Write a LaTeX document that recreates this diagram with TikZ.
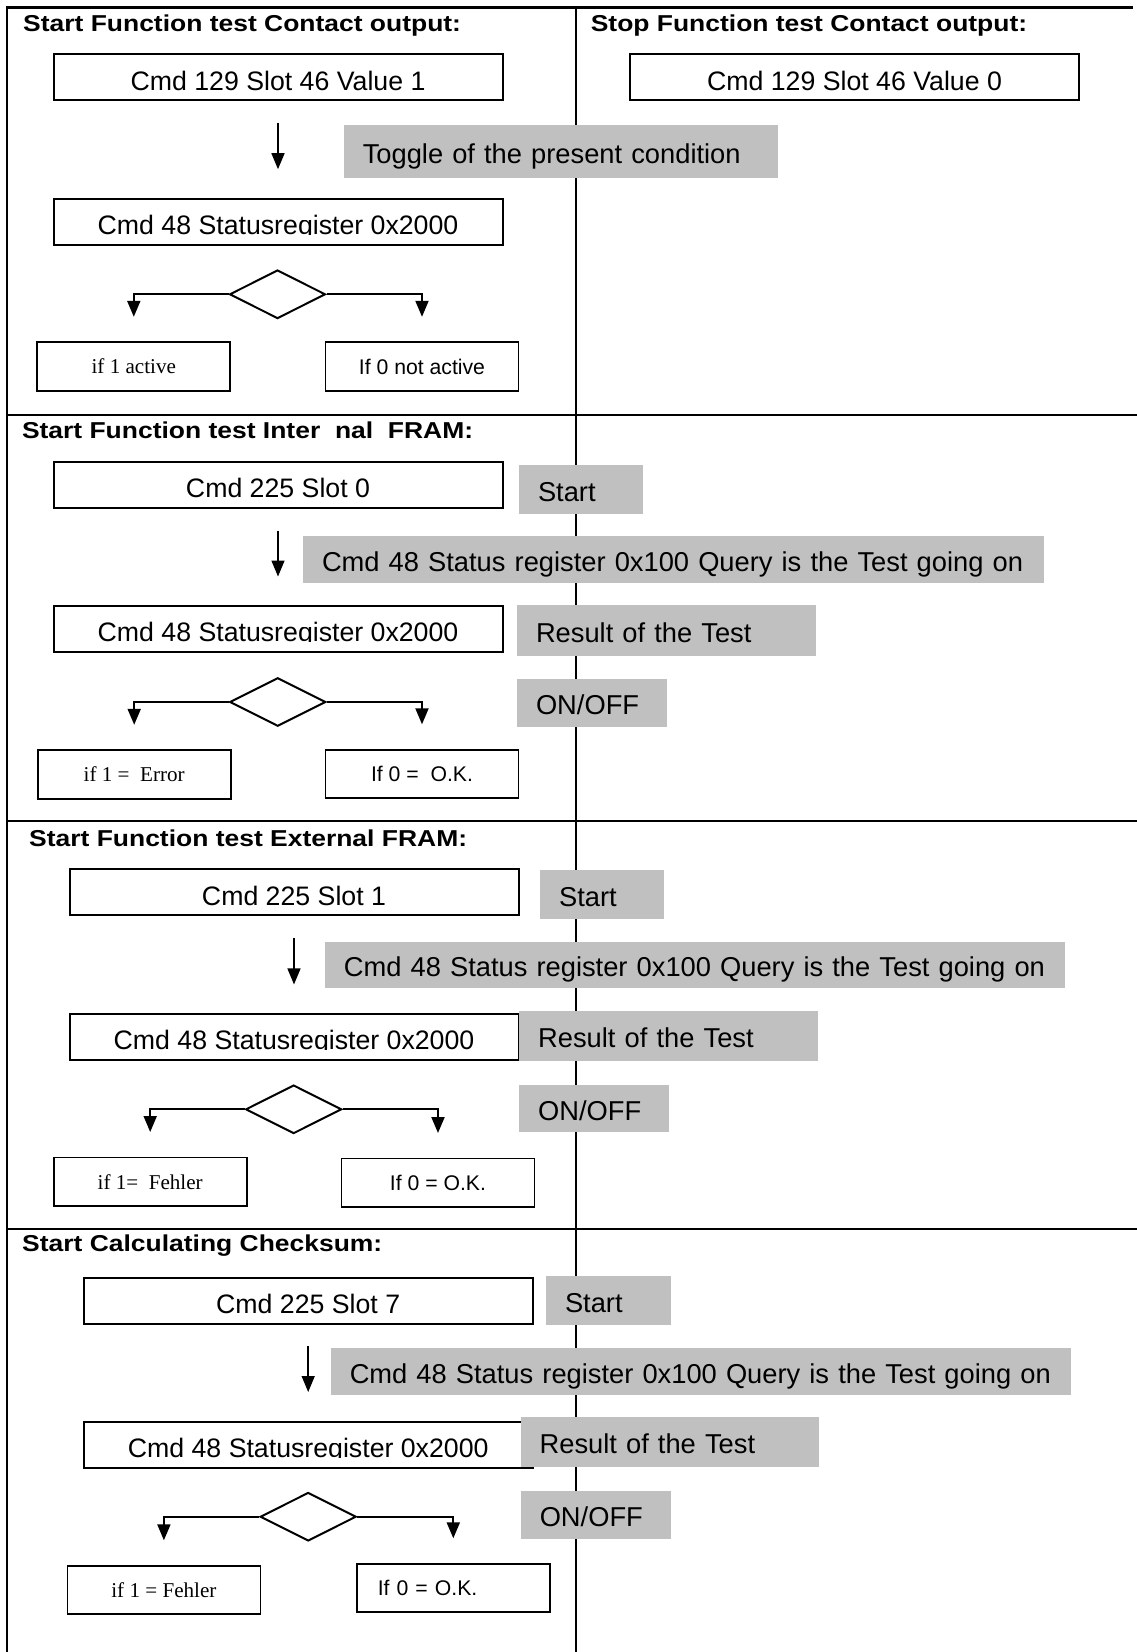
\documentclass[tikz,border=0pt]{standalone}
\usepackage{fontspec}
\setmainfont{Liberation Sans}
\newfontfamily\headfont[FakeStretch=1.15]{Liberation Sans}
\newfontfamily\timesfont{Liberation Serif}
\usepackage{trimclip}
\usetikzlibrary{shapes.geometric, arrows.meta}
\definecolor{labelgray}{RGB}{192, 192, 192}
% g with its descender cut off
\newcommand{\cutg}{\clipbox{0pt {\depth} 0pt 0pt}{g}}

\begin{document}
\begin{tikzpicture}[
          x=1pt, y=-1pt,
          gridline/.style={line width=2.5pt},
          headline/.style={anchor=base west, inner sep=0pt, font=\headfont\bfseries\fontsize{23}{26}\selectfont},
          cmdbox/.style={draw, line width=2pt, minimum width=449pt, minimum height=46pt, inner sep=0pt, text height=25.9pt, text depth=0pt, font=\fontsize{26.7}{30}\selectfont},
          note/.style={fill=labelgray, inner xsep=19pt, inner ysep=0pt, align=left, text height=23.5pt, text depth=0pt, font=\fontsize{27.3}{31}\selectfont},
          resbox/.style={draw, line width=1.8pt, minimum width=193pt, minimum height=48.6pt, inner sep=0pt, font=\fontsize{21.2}{24}\selectfont},
          resserif/.style={resbox, font=\timesfont\fontsize{21.1}{24}\selectfont},
          decision/.style={diamond, draw, line width=2pt, minimum width=96pt, minimum height=48.5pt, inner sep=0pt, aspect=2},
          flow/.style={-{Triangle[width=13pt,length=16pt]}, line width=1.5pt, shorten <=21.5pt, shorten >=28.5pt},
          branch/.style={-{Triangle[width=13pt,length=16pt]}, line width=2pt, shorten >=24.5pt}
        ]
          \useasboundingbox (0,0) rectangle (1137,1652);

          % table
          \draw[gridline] (7,1652) -- (7,7.3) -- (1133,7.3);
          \draw[gridline] (576,7.3) -- (576,1652);
          \draw[gridline] (7,415) -- (1137,415);
          \draw[gridline] (7,821) -- (1137,821);
          \draw[gridline] (7,1229) -- (1137,1229);

          % contact output
          \node[headline] (head1) at (23,31) {Start Function test Contact output:};
          \node[headline] (head1r) at (590.6,31) {Stop Function test Contact output:};
          \node[cmdbox] (start1) at (278,77.2) {Cmd 129 Slot 46 Value 1};
          \node[cmdbox] (stop1) at (854.5,77.2) {Cmd 129 Slot 46 Value 0};
          \node[cmdbox] (status1) at (278,221.7) {Cmd 48 Statusre\cutg ister 0x2000};
          \node[decision] (dia1) at (277.5,294.3) {};
          \node[resserif] (yes1) at (133.8,366.5) {if 1 active};
          \node[resbox] (no1) at (422,366.5) {If 0 not active};
          \draw[flow] (start1) -- (status1);
          \draw[branch] (dia1.west) -| (yes1.north);
          \draw[branch] (dia1.east) -| (no1.north);
          \node[note, text width=396.3pt, minimum height=52.7pt] (toggle1) at (560.9,151.4) {Toggle of the present condition};

          % internal FRAM
          \node[headline] (head2) at (21.8,438.5) {Start Function test Inter\ \ nal\ \ FRAM:};
          \node[cmdbox] (start2) at (278,485) {Cmd 225 Slot 0};
          \node[cmdbox] (status2) at (278,629) {Cmd 48 Statusre\cutg ister 0x2000};
          \node[decision] (dia2) at (277.7,702) {};
          \node[resserif] (yes2) at (134.2,774.5) {if 1 =\ \ Error};
          \node[resbox] (no2) at (422,774) {If 0 =\ \ O.K.};
          \draw[flow] (start2) -- (status2);
          \draw[branch] (dia2.west) -| (yes2.north);
          \draw[branch] (dia2.east) -| (no2.north);
          \node[note, text width=86pt, minimum height=48.7pt] (begin2) at (581,489.4) {Start};
          \node[note, text width=703pt, minimum height=46.7pt] (query2) at (673.5,559.4) {Cmd 48 Status register 0x100 Query is the Test going on};
          \node[note, text width=260.8pt, minimum height=50.7pt] (result2) at (666.4,630.4) {Result of the Test};
          \node[note, text width=112pt, minimum height=47.7pt] (onoff2) at (592,702.9) {ON/OFF};

          % external FRAM
          \node[headline] (head3) at (29,846) {Start Function test External FRAM:};
          \node[cmdbox] (start3) at (294,892.4) {Cmd 225 Slot 1};
          \node[cmdbox] (status3) at (294,1036.9) {Cmd 48 Statusre\cutg ister 0x2000};
          \node[decision] (dia3) at (293.7,1109.3) {};
          \node[resserif] (yes3) at (150.2,1181.7) {if 1=\ \ Fehler};
          \node[resbox] (no3) at (438,1182.7) {If 0 = O.K.};
          \draw[flow] (start3) -- (status3);
          \draw[branch] (dia3.west) -| (yes3.north);
          \draw[branch] (dia3.east) -| (no3.north);
          \node[note, text width=86.3pt, minimum height=48.7pt] (begin3) at (602.2,894.4) {Start};
          \node[note, text width=701.6pt, minimum height=45.7pt] (query3) at (694.7,964.9) {Cmd 48 Status register 0x100 Query is the Test going on};
          \node[note, text width=260.8pt, minimum height=50pt] (result3) at (668.6,1036) {Result of the Test};
          \node[note, text width=111.4pt, minimum height=47.3pt] (onoff3) at (593.9,1108.7) {ON/OFF};

          % checksum
          \node[headline] (head4) at (22,1251.7) {Start Calculating Checksum:};
          \node[cmdbox] (start4) at (308.2,1300.5) {Cmd 225 Slot 7};
          \node[cmdbox] (status4) at (308.2,1444.5) {Cmd 48 Statusre\cutg ister 0x2000};
          \node[decision] (dia4) at (308.2,1516.7) {};
          \node[resserif] (yes4) at (163.9,1590) {if 1 = Fehler};
          \node[resbox, align=left, text width=151pt, inner xsep=21pt] (no4) at (453.3,1588) {If 0 = O.K.};
          \draw[flow] (start4) -- (status4);
          \draw[branch] (dia4.west) -| (yes4.north);
          \draw[branch] (dia4.east) -| (no4.north);
          \node[note, text width=86.8pt, minimum height=48.7pt] (begin4) at (608.4,1300.4) {Start};
          \node[note, text width=702.3pt, minimum height=46.7pt] (query4) at (700.9,1371.4) {Cmd 48 Status register 0x100 Query is the Test going on};
          \node[note, text width=260.7pt, minimum height=50.6pt] (result4) at (670,1442) {Result of the Test};
          \node[note, text width=112.1pt, minimum height=48.3pt] (onoff4) at (595.8,1514.9) {ON/OFF};
        \end{tikzpicture}
\end{document}
